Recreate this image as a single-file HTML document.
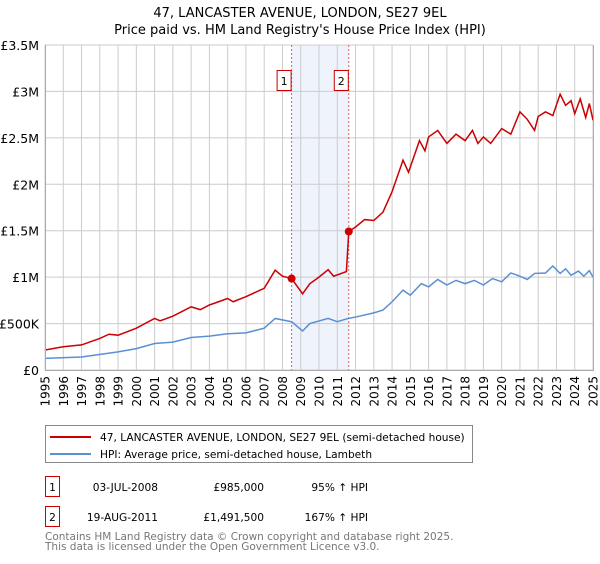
<!DOCTYPE html>
<html><head><meta charset="utf-8"><style>
body{margin:0;background:#fff;font-family:"DejaVu Sans","Liberation Sans",sans-serif;}
svg text{font-family:"DejaVu Sans","Liberation Sans",sans-serif;}
</style></head><body>
<svg id="c" width="600" height="560" xmlns="http://www.w3.org/2000/svg">
<text x="300" y="17" text-anchor="middle" font-size="13" fill="#000">47, LANCASTER AVENUE, LONDON, SE27 9EL</text>
<text x="300" y="34" text-anchor="middle" font-size="13" fill="#000">Price paid vs. HM Land Registry's House Price Index (HPI)</text>
<g id="plot"></g>
<g>
<rect x="45.5" y="425.5" width="427" height="37" fill="#fff" stroke="#888"/>
<line x1="50" y1="437" x2="91" y2="437" stroke="#cc0000" stroke-width="2"/>
<text x="100" y="441" font-size="10.6">47, LANCASTER AVENUE, LONDON, SE27 9EL (semi-detached house)</text>
<line x1="50" y1="454" x2="91" y2="454" stroke="#5b8fd4" stroke-width="2"/>
<text x="100" y="458" font-size="10.6">HPI: Average price, semi-detached house, Lambeth</text>
</g>
<g font-size="10.6">
<rect x="45.5" y="476.5" width="14" height="20" fill="#fff" stroke="#cc0000"/>
<text x="52.5" y="491" text-anchor="middle">1</text>
<text x="158" y="491" text-anchor="end">03-JUL-2008</text>
<text x="264" y="491" text-anchor="end">£985,000</text>
<text x="368" y="491" text-anchor="end">95% ↑ HPI</text>
<rect x="45.5" y="506.5" width="14" height="20" fill="#fff" stroke="#cc0000"/>
<text x="52.5" y="521" text-anchor="middle">2</text>
<text x="158" y="521" text-anchor="end">19-AUG-2011</text>
<text x="264" y="521" text-anchor="end">£1,491,500</text>
<text x="368" y="521" text-anchor="end">167% ↑ HPI</text>
</g>
<text x="45" y="540" font-size="10.5" fill="#777">Contains HM Land Registry data © Crown copyright and database right 2025.</text>
<text x="45" y="550" font-size="10.5" fill="#777">This data is licensed under the Open Government Licence v3.0.</text>
</svg>
<script>
const redT=[1995,1996,1997,1998,1998.5,1999,2000,2001,2001.3,2002,2003,2003.5,2004,2005,2005.3,2006,2007,2007.6,2008,2008.5,2009.1,2009.5,2010,2010.5,2010.8,2011.5,2011.63,2012,2012.5,2013,2013.5,2014,2014.6,2014.9,2015.5,2015.8,2016,2016.5,2017,2017.5,2018,2018.4,2018.7,2019,2019.4,2020,2020.5,2021,2021.4,2021.8,2022,2022.4,2022.8,2023.2,2023.5,2023.8,2024,2024.3,2024.6,2024.8,2025];
const redV=[0.215,0.25,0.27,0.34,0.385,0.375,0.45,0.555,0.53,0.58,0.68,0.65,0.70,0.77,0.735,0.79,0.88,1.075,1.01,0.985,0.82,0.93,1.0,1.08,1.01,1.06,1.4915,1.54,1.62,1.61,1.70,1.92,2.26,2.13,2.47,2.36,2.51,2.58,2.44,2.54,2.47,2.58,2.44,2.51,2.44,2.6,2.54,2.78,2.7,2.58,2.73,2.78,2.74,2.97,2.85,2.90,2.76,2.92,2.72,2.87,2.69];
const hpiT=[1995,1997,1999,2000,2001,2002,2003,2004,2005,2006,2007,2007.6,2008.5,2009.1,2009.5,2010.5,2011,2011.6,2012,2013,2013.5,2014,2014.6,2015,2015.6,2016,2016.5,2017,2017.5,2018,2018.5,2019,2019.5,2020,2020.5,2021,2021.4,2021.8,2022.4,2022.8,2023.2,2023.5,2023.8,2024.2,2024.5,2024.8,2025];
const hpiV=[0.125,0.14,0.195,0.23,0.285,0.30,0.35,0.365,0.39,0.40,0.45,0.555,0.52,0.42,0.50,0.555,0.52,0.555,0.57,0.615,0.645,0.735,0.86,0.805,0.93,0.895,0.975,0.915,0.965,0.93,0.965,0.915,0.985,0.95,1.045,1.01,0.975,1.04,1.045,1.12,1.04,1.09,1.02,1.065,1.01,1.07,1.0];
const yTicks=[0,0.5,1,1.5,2,2.5,3,3.5];
const yTickLabels=["£0","£500K","£1M","£1.5M","£2M","£2.5M","£3M","£3.5M"];
const years=[1995,1996,1997,1998,1999,2000,2001,2002,2003,2004,2005,2006,2007,2008,2009,2010,2011,2012,2013,2014,2015,2016,2017,2018,2019,2020,2021,2022,2023,2024,2025];
const saleT=[2008.5,2011.63];
const saleV=[0.985,1.4915];
const saleLabels=["1","2"];
const X=t=>45+(t-1995)*(548/30);
const Y=v=>370-v*(325/3.5);
const NS="http://www.w3.org/2000/svg";
const g=document.getElementById('plot');
function mk(tag,attrs,parent){const e=document.createElementNS(NS,tag);for(const k in attrs)e.setAttribute(k,attrs[k]);(parent||g).appendChild(e);return e;}
const band=mk('rect',{x:X(saleT[0]),y:Y(3.5),width:X(saleT[1])-X(saleT[0]),height:Y(0)-Y(3.5),fill:'#eef3fc'});


years.forEach(y=>{const l=mk('line',{x1:X(y),x2:X(y),y1:Y(3.5),y2:Y(0),stroke:'#ccc'});


const t=mk('text',{x:0,y:0,'font-size':12,'text-anchor':'end',transform:`translate(${X(y)+4.5},${Y(0)+6}) rotate(-90)`});t.textContent=y;

});
yTicks.forEach((v,i)=>{const l=mk('line',{x1:45,x2:593,y1:Y(v),y2:Y(v),stroke:'#ccc'});


const t=mk('text',{x:39,y:Y(v)+5,'font-size':12.5,'text-anchor':'end'});t.textContent=yTickLabels[i];

});
saleT.forEach((s,i)=>{const l=mk('line',{x1:X(s),x2:X(s),y1:Y(3.5),y2:Y(0),stroke:'#e06060','stroke-dasharray':'2,2'});


const r=mk('rect',{x:X(s)-14.5,y:70.5,width:14,height:20,fill:'#fff',stroke:'#cc0000'});


const t=mk('text',{x:X(s)-7.5,y:85,'font-size':11,'text-anchor':'middle'});t.textContent=saleLabels[i];

});
const hp=mk('polyline',{points:hpiT.map((t,i)=>X(t)+','+Y(hpiV[i])).join(' '),fill:'none',stroke:'#5b8fd4','stroke-width':1.5});


const rp=mk('polyline',{points:redT.map((t,i)=>X(t)+','+Y(redV[i])).join(' '),fill:'none',stroke:'#cc0000','stroke-width':1.5});


saleT.forEach((s,i)=>{const c=mk('circle',{cx:X(s),cy:Y(saleV[i]),r:4,fill:'#cc0000'});

});
const ax=mk('path',{d:`M45.5,${Y(3.5)}V${Y(0)+0.5}H593.5V${Y(3.5)}`,fill:'none',stroke:'#aaa'});


</script>
</body></html>
